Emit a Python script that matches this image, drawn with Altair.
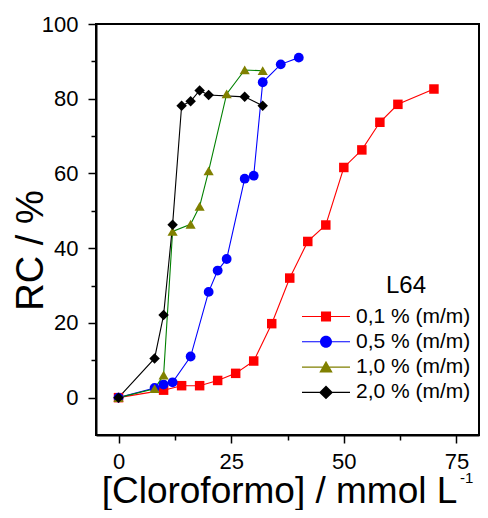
import altair as alt
import pandas as pd

series = ["0,1 % (m/m)", "0,5 % (m/m)", "1,0 % (m/m)", "2,0 % (m/m)"]

red_x = [0, 10, 14, 18, 22, 26, 30, 34, 38, 42, 46, 50, 54, 58, 62, 70]
red_y = [0, 2.0, 3.2, 3.2, 4.6, 6.5, 9.8, 19.8, 32.0, 41.8, 46.2, 61.6, 66.3, 73.7, 78.5, 82.6]

blue_x = [0, 8, 10, 12, 16, 20, 22, 24, 28, 30, 32, 36, 40]
blue_y = [0, 2.6, 3.5, 4.1, 11.0, 28.3, 34.0, 37.1, 58.6, 59.4, 84.4, 89.2, 91.0]

olive_x = [0, 8, 10, 12, 16, 18, 20, 24, 28, 32]
olive_y = [0, 2.4, 6.0, 44.5, 46.4, 51.2, 60.7, 81.3, 87.7, 87.5]

black_x = [0, 8, 10, 12, 14, 16, 18, 20, 28, 32]
black_y = [0, 10.5, 22.1, 46.3, 78.1, 79.3, 82.2, 81.0, 80.5, 78.1]

line_colors = ["#FF0000", "#0000FF", "#008000", "#000000"]
marker_colors = ["#FF0000", "#0000FF", "#808000", "#000000"]
marker_shapes = ["square", "circle", "triangle-up", "diamond"]
marker_sizes = [90, 110, 150, 180]

x_ticks = [0, 12.5, 25, 37.5, 50, 62.5, 75]
y_ticks = [0, 10, 20, 30, 40, 50, 60, 70, 80, 90, 100]

# legend symbols: line segment + marker
leg_paths = [
    "M-1,-0.022H1V0.022H-1Z M-0.21,-0.21H0.21V0.21H-0.21Z",
    "M-1,-0.022H1V0.022H-1Z M0.25,0 A0.25,0.25 0 1,1 -0.25,0 A0.25,0.25 0 1,1 0.25,0Z",
    "M-1,-0.022H1V0.022H-1Z M0,-0.26 L0.28,0.22 L-0.28,0.22 Z",
    "M-1,-0.022H1V0.022H-1Z M0,-0.29 L0.29,0 L0,0.29 L-0.29,0 Z",
]

rows = []
for name, xs, ys in zip(series, [red_x, blue_x, olive_x, black_x], [red_y, blue_y, olive_y, black_y]):
    for xv, yv in zip(xs, ys):
        rows.append({"series": name, "x": xv, "y": yv})
df = pd.DataFrame(rows)

FONT = "Liberation Sans"
W, H = 383, 411

x_enc = alt.X(
    "x:Q",
    scale=alt.Scale(domain=[-5, 80], nice=False, zero=False),
    axis=alt.Axis(
        values=x_ticks,
        labelExpr="datum.value % 25 === 0 ? datum.label : ''",
        tickSize={"condition": {"test": "datum.value % 25 === 0", "value": 8}, "value": 5},
        title="[Cloroformo] / mmol L",
        titleFontSize=37,
        titleFontWeight="normal",
        titleAlign="center",
        titleBaseline="alphabetic",
        titleX=183,
        titleY=67.5,
        labelFontSize=22,
        labelPadding=8,
        grid=False,
    ),
)
y_enc = alt.Y(
    "y:Q",
    scale=alt.Scale(domain=[-10, 100], nice=False, zero=False),
    axis=alt.Axis(
        values=y_ticks,
        labelExpr="datum.value % 20 === 0 ? datum.label : ''",
        tickSize={"condition": {"test": "datum.value % 20 === 0", "value": 8}, "value": 5},
        title="RC / %",
        titleFontSize=38,
        titleFontWeight="normal",
        titleAlign="center",
        titleBaseline="alphabetic",
        titleAngle=-90,
        titleX=-54,
        titleY=226,
        labelFontSize=22,
        labelPadding=10,
        grid=False,
    ),
)

base = alt.Chart(df)

lines = base.mark_line(strokeWidth=1.1).encode(
    x=x_enc,
    y=y_enc,
    stroke=alt.Stroke("series:N", scale=alt.Scale(domain=series, range=line_colors), legend=None),
    detail="series:N",
)

points = base.mark_point(filled=True, opacity=1, strokeWidth=0).encode(
    x="x:Q",
    y="y:Q",
    fill=alt.Fill("series:N", scale=alt.Scale(domain=series, range=marker_colors), legend=None),
    shape=alt.Shape("series:N", scale=alt.Scale(domain=series, range=marker_shapes), legend=None),
    size=alt.Size("series:N", scale=alt.Scale(domain=series, range=marker_sizes), legend=None),
)

leg_kw = dict(
    title="L64",
    orient="none",
    legendX=206,
    legendY=250,
    padding=0,
    titleFontSize=24,
    titleFontWeight="normal",
    titleColor="black",
    titleAnchor="middle",
    titleAlign="left",
    titlePadding=6,
    labelFontSize=21,
    labelColor="black",
    labelOffset=6,
    symbolSize=2304,
    symbolOpacity=1,
    symbolStrokeWidth=0,
    clipHeight=25,
    rowPadding=0.3,
)

legend_layer = base.mark_point(filled=True, opacity=0).encode(
    x="x:Q",
    y="y:Q",
    fill=alt.Fill("series:N", scale=alt.Scale(domain=series, range=marker_colors), legend=alt.Legend(**leg_kw)),
    shape=alt.Shape("series:N", scale=alt.Scale(domain=series, range=leg_paths), legend=alt.Legend(**leg_kw)),
)

sup = alt.Chart(pd.DataFrame({"t": ["-1"]})).mark_text(
    align="left", baseline="alphabetic", fontSize=15, font=FONT, color="black"
).encode(x=alt.value(364), y=alt.value(458.5), text="t:N")

chart = (
    alt.layer(lines, points, legend_layer, sup)
    .resolve_scale(stroke="independent", fill="independent", shape="independent", size="independent")
    .properties(
        width=W,
        height=H,
        autosize=alt.AutoSizeParams(type="none"),
        padding={"left": 88, "top": 16, "right": 1, "bottom": 75},
    )
    .configure(font=FONT)
    .configure_view(stroke="black", strokeWidth=2)
    .configure_axis(
        domainColor="black",
        domainWidth=2,
        tickColor="black",
        tickWidth=1.5,
        labelColor="black",
        titleColor="black",
        labelFont=FONT,
        titleFont=FONT,
    )
    .configure_legend(labelFont=FONT, titleFont=FONT)
)

chart.save("out.html", embed_options={"renderer": "svg", "actions": False})
